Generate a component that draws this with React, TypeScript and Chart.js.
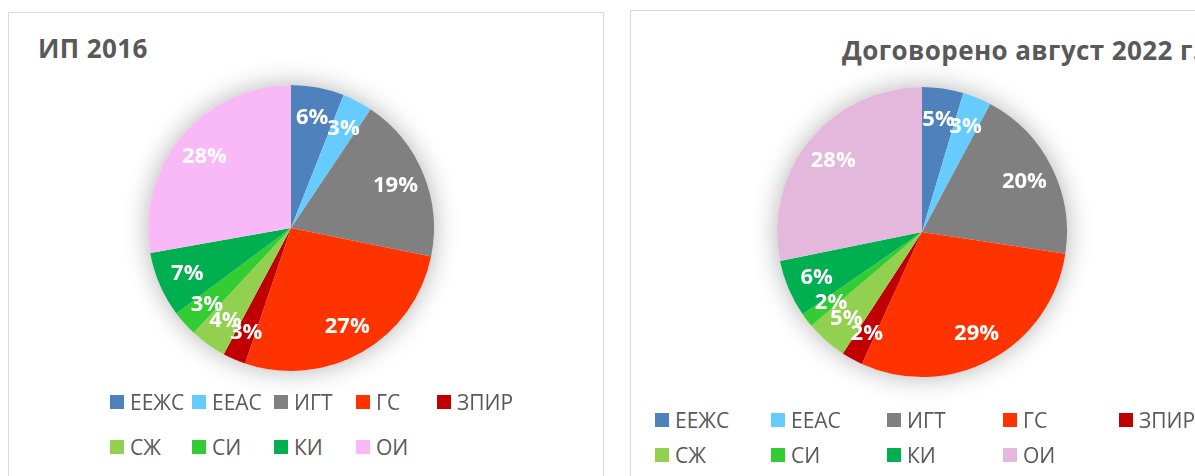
import React, { useEffect, useRef } from "react";
import { Chart, registerables } from "chart.js";

Chart.register(...registerables);

const categories = ["ЕЕЖС", "ЕЕАС", "ИГТ", "ГС", "ЗПИР", "СЖ", "СИ", "КИ", "ОИ"];
const values2016 = [6, 3.4, 18.8, 27, 2.6, 4.1, 2.9, 7.4, 27.8];
const values2022 = [4.6, 3.2, 19.6, 29.4, 2.4, 4.6, 1.6, 6.4, 28.2];
const colors2016 = ["#4F81BD", "#66CCFF", "#808080", "#FF3300", "#C00000", "#92D050", "#33CC33", "#00B050", "#F8B9F6"];
const colors2022 = ["#4F81BD", "#66CCFF", "#808080", "#FF3300", "#C00000", "#92D050", "#33CC33", "#00B050", "#E4B8DC"];
const title2016 = "ИП 2016";
const title2022 = "Договорено август 2022 г.";

const FONT = '"Open Sans", "Noto Sans", sans-serif';

const shadowPlugin = {
  id: "pieShadow",
  beforeDatasetsDraw(chart: any) {
    const meta = chart.getDatasetMeta(0);
    if (!meta.data.length) return;
    const arc = meta.data[0];
    const { x, y, outerRadius } = arc.getProps(["x", "y", "outerRadius"], true);
    const ctx = chart.ctx;
    ctx.save();
    ctx.shadowColor = "rgba(0,0,0,0.3)";
    ctx.shadowBlur = 26;
    ctx.fillStyle = "#ffffff";
    ctx.beginPath();
    ctx.arc(x, y, outerRadius, 0, Math.PI * 2);
    ctx.fill();
    ctx.restore();
  },
};

const labelPlugin = {
  id: "pctLabels",
  afterDatasetsDraw(chart: any) {
    const ctx = chart.ctx;
    const ds = chart.data.datasets[0];
    const total = ds.data.reduce((a: number, b: number) => a + b, 0);
    const meta = chart.getDatasetMeta(0);
    ctx.save();
    ctx.font = `bold 22px ${FONT}`;
    ctx.fillStyle = "#ffffff";
    ctx.textAlign = "center";
    ctx.textBaseline = "middle";
    meta.data.forEach((arc: any, i: number) => {
      const { x, y, startAngle, endAngle, outerRadius } = arc.getProps(
        ["x", "y", "startAngle", "endAngle", "outerRadius"],
        true
      );
      const mid = (startAngle + endAngle) / 2;
      const r = outerRadius * 0.79;
      ctx.fillText(Math.round((ds.data[i] / total) * 100) + "%", x + Math.cos(mid) * r, y + Math.sin(mid) * r + 1);
    });
    ctx.restore();
  },
};

function Pie({ values, colors, left, top, size }: { values: number[]; colors: string[]; left: number; top: number; size: number }) {
  const ref = useRef<HTMLCanvasElement | null>(null);
  useEffect(() => {
    if (!ref.current) return;
    const chart = new Chart(ref.current, {
      type: "pie",
      data: {
        labels: categories,
        datasets: [{ data: values, backgroundColor: colors, borderWidth: 0 }],
      },
      options: {
        responsive: false,
        maintainAspectRatio: false,
        animation: false,
        devicePixelRatio: 1,
        layout: { padding: 40 },
        plugins: { legend: { display: false }, tooltip: { enabled: false }, title: { display: false } },
      },
      plugins: [shadowPlugin, labelPlugin],
    } as any);
    return () => chart.destroy();
  }, []);
  return (
    <canvas
      ref={ref}
      width={size}
      height={size}
      style={{ position: "absolute", left, top, width: size, height: size }}
    />
  );
}

function Legend({ colors, xs, ys }: { colors: string[]; xs: number[]; ys: number[] }) {
  return (
    <>
      {categories.map((c, i) => {
        const col = i < 5 ? i : i - 5;
        const row = i < 5 ? 0 : 1;
        return (
          <div
            key={c}
            style={{
              position: "absolute",
              left: xs[col],
              top: ys[row] - 12,
              height: 24,
              display: "flex",
              alignItems: "center",
              whiteSpace: "nowrap",
              fontFamily: FONT,
              fontSize: 21,
              color: "#595959",
            }}
          >
            <span style={{ display: "inline-block", width: 14, height: 14, background: colors[i], marginRight: 6 }} />
            <span style={{ lineHeight: "24px" }}>{c}</span>
          </div>
        );
      })}
    </>
  );
}

const titleStyle: React.CSSProperties = {
  position: "absolute",
  fontFamily: FONT,
  fontWeight: 700,
  fontSize: 26,
  letterSpacing: 0.4,
  lineHeight: "26px",
  color: "#595959",
  whiteSpace: "nowrap",
};

export default function App() {
  useEffect(() => {
    document.body.style.margin = "0";
  }, []);
  return (
    <div style={{ position: "fixed", left: 0, top: 0, width: 1195, height: 476, overflow: "hidden", background: "#fff" }}>
      <div style={{ position: "absolute", left: 8, top: 12, width: 596, height: 520, border: "1px solid #d9d9d9", boxSizing: "border-box" }} />
      <div style={{ position: "absolute", left: 630, top: 10, width: 620, height: 520, border: "1px solid #d9d9d9", boxSizing: "border-box" }} />
      <div style={{ ...titleStyle, left: 38, top: 35 }}>{title2016}</div>
      <div style={{ ...titleStyle, left: 842, top: 37 }}>{title2022}</div>
      <Pie values={values2016} colors={colors2016} left={108} top={45} size={366} />
      <Pie values={values2022} colors={colors2022} left={737} top={47} size={370} />
      <Legend colors={colors2016} xs={[110, 192, 274, 356, 437]} ys={[402, 447]} />
      <Legend colors={colors2022} xs={[655, 771, 887, 1003, 1119]} ys={[420, 455]} />
    </div>
  );
}
